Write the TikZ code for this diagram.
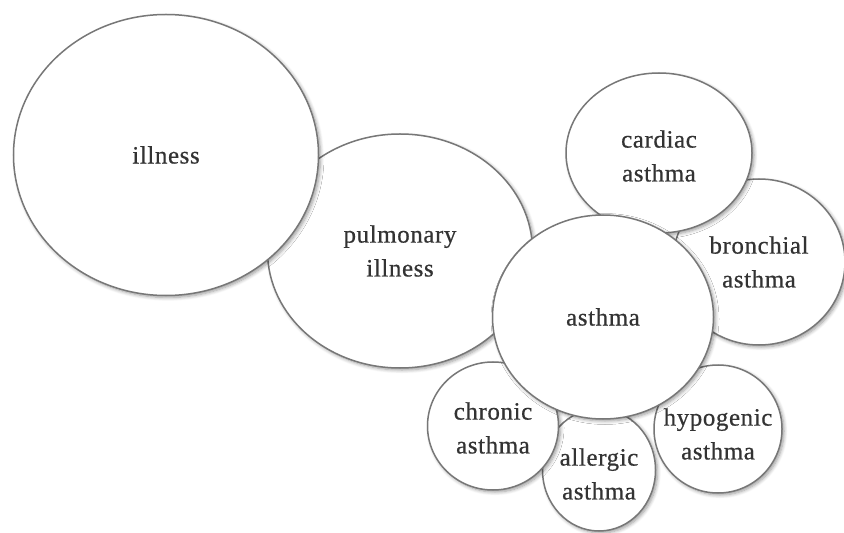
\documentclass[tikz,border=0pt]{standalone}
\usepackage{fontspec}
\setmainfont[LetterSpace=2.5,FakeBold=0.6]{Liberation Serif}
\usetikzlibrary{shapes.geometric,shadows.blur}
\definecolor{edge}{HTML}{777777}
\definecolor{txt}{HTML}{333333}
\begin{document}
\begin{tikzpicture}[x=1bp,y=-1bp,
  bub/.style={ellipse, draw=edge, line width=1.5bp, fill=white, inner sep=0pt,
    blur shadow={shadow xshift=2bp, shadow yshift=-2bp, shadow blur steps=6, shadow opacity=40, shadow blur radius=3.5bp}},
  lbl/.style={inner sep=0pt, align=center, text=txt, font=\fontsize{25}{34}\selectfont}]
\useasboundingbox (0,0) rectangle (844,533);
\node[bub, minimum width=265bp, minimum height=234bp] (pul) at (400,251) {};
\node[lbl] (pult) at (pul) {pulmonary\\illness};
\node[bub, minimum width=305bp, minimum height=281bp] (ill) at (166,155) {};
\node[lbl] (illt) at (ill) {illness};
\node[bub, minimum width=172bp, minimum height=166bp] (bro) at (759,262) {};
\node[lbl] (brot) at (bro) {bronchial\\asthma};
\node[bub, minimum width=186bp, minimum height=160bp] (car) at (659,153) {};
\node[lbl] (cart) at ([yshift=-3bp]car.center) {cardiac\\asthma};
\node[bub, minimum width=113bp, minimum height=122bp] (all) at (599,470) {};
\node[lbl] (allt) at ([yshift=-4bp]all.center) {allergic\\asthma};
\node[bub, minimum width=131bp, minimum height=128bp] (chr) at (493,426) {};
\node[lbl] (chrt) at ([yshift=-2bp]chr.center) {chronic\\asthma};
\node[bub, minimum width=128bp, minimum height=128bp] (hyp) at (718,429) {};
\node[lbl] (hypt) at ([yshift=-5bp]hyp.center) {hypogenic\\asthma};
\node[bub, minimum width=221bp, minimum height=204bp] (ast) at (603,317) {};
\node[lbl] (astt) at (ast) {asthma};
\end{tikzpicture}
\end{document}
